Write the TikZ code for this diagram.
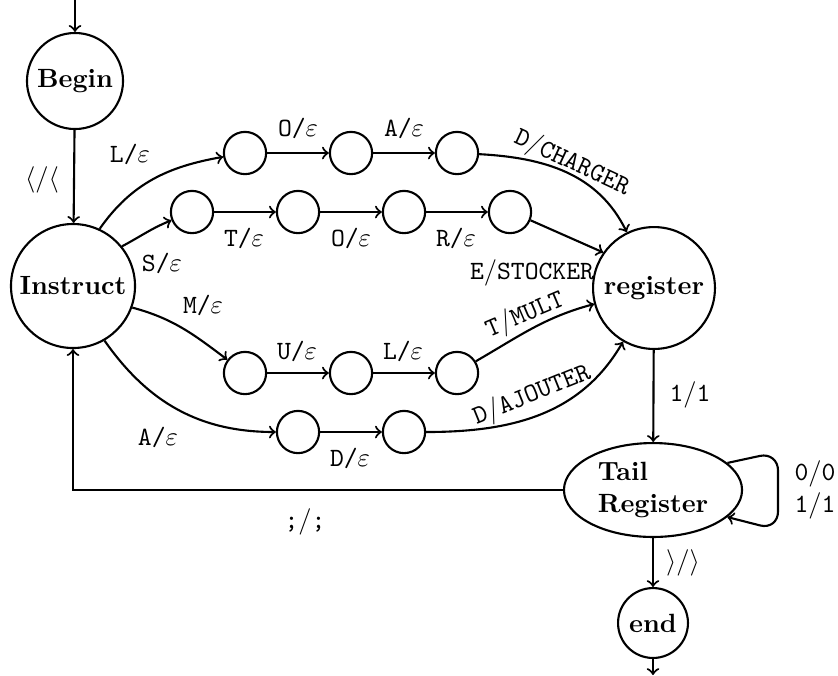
\documentclass[tikz,border=0pt]{standalone}
\usetikzlibrary{shapes.geometric}
\begin{document}
\begin{tikzpicture}[x=0.379pt,y=-0.379pt,
  every path/.style={thick},
  >=to,
  bigstate/.style={draw,circle,inner sep=0pt,font=\bfseries},
  smallstate/.style={draw,circle,inner sep=0pt,minimum size=16pt},
  lab/.style={inner sep=0pt,font=\ttfamily},
  conn/.style={->}]
\useasboundingbox (0,0) rectangle (838,675);
% states
\node[bigstate,minimum size=36.4pt] (begin) at (75,81) {Begin};
\node[bigstate,minimum size=47pt] (instr) at (73,286) {Instruct};
\node[bigstate,minimum size=46.2pt] (reg) at (654,288) {register};
\node[draw,ellipse,inner sep=0pt,minimum width=67.5pt,minimum height=35.6pt,font=\bfseries,align=left] (tr) at (653,490) {Tail\\Register};
\node[bigstate,minimum size=26.5pt] (fin) at (653,623) {end};
\node[smallstate] (l1) at (245,153) {};
\node[smallstate] (l2) at (351,153) {};
\node[smallstate] (l3) at (457,153) {};
\node[smallstate] (s1) at (192,212) {};
\node[smallstate] (s2) at (298,212) {};
\node[smallstate] (s3) at (404,212) {};
\node[smallstate] (s4) at (510,212) {};
\node[smallstate] (m1) at (245,373) {};
\node[smallstate] (m2) at (351,373) {};
\node[smallstate] (m3) at (457,373) {};
\node[smallstate] (a1) at (298,432) {};
\node[smallstate] (a2) at (404,432) {};
\coordinate (entry) at (75,0);
\coordinate (exit) at (653,675);
\coordinate (lpA) at (778,452);
\coordinate (lpB) at (778,530);
% connectors
\draw[conn] (entry) -- (begin);
\draw[conn] (begin) -- (instr);
\draw[conn] (instr.65) to[out=55,in=190] (l1);
\draw[conn] (instr.39) to[out=28,in=202] (s1);
\draw[conn] (instr.-20) to[out=-15,in=143] (m1);
\draw[conn] (instr.-60) to[out=-55,in=180] (a1);
\draw[conn] (l1) -- (l2);
\draw[conn] (l2) -- (l3);
\draw[conn] (s1) -- (s2);
\draw[conn] (s2) -- (s3);
\draw[conn] (s3) -- (s4);
\draw[conn] (m1) -- (m2);
\draw[conn] (m2) -- (m3);
\draw[conn] (a1) -- (a2);
\draw[conn] (l3) to[out=-3,in=116] (reg);
\draw[conn] (s4.-22) -- (reg.145);
\draw[conn] (m3.32) to[out=30,in=195] (reg);
\draw[conn] (a2) to[out=0,in=240] (reg);
\draw[conn] (reg) -- (tr);
\draw[conn] (tr) -- (fin);
\draw[conn] (fin) -- (exit);
\draw[conn,rounded corners=7pt] (tr.20) -- (lpA) -- (lpB) -- (tr.-20);
\draw[conn] (tr.west) -| (instr.south);
% labels
\node[lab] (t1) at (42,180) {$\langle/\langle$};
\node[lab] (t2) at (130,154) {L/$\varepsilon$};
\node[lab] (t3) at (162,263) {S/$\varepsilon$};
\node[lab] (t4) at (203,305) {M/$\varepsilon$};
\node[lab] (t5) at (158,437) {A/$\varepsilon$};
\node[lab] (t6) at (298,128) {O/$\varepsilon$};
\node[lab] (t7) at (404,128) {A/$\varepsilon$};
\node[lab] (t8) at (244,238) {T/$\varepsilon$};
\node[lab] (t9) at (351,238) {O/$\varepsilon$};
\node[lab] (t10) at (456,238) {R/$\varepsilon$};
\node[lab] (t11) at (297,351) {U/$\varepsilon$};
\node[lab] (t12) at (403,351) {L/$\varepsilon$};
\node[lab] (t13) at (350,458) {D/$\varepsilon$};
\node[lab,rotate=-25] (t14) at (572,163) {D$/$CHARGER};
\node[lab] (t15) at (532,273) {E$/$STOCKER};
\node[lab,rotate=23] (t16) at (525,315) {T$/$MULT};
\node[lab,rotate=22] (t17) at (532,395) {D$/$AJOUTER};
\node[lab] (t18) at (690,395) {1$/$1};
\node[lab] (t19) at (683,563) {$\rangle/\rangle$};
\node[lab,align=left] (t20) at (815,490) {0$/$0\\1$/$1};
\node[lab] (t21) at (305,522) {;$/$;};
\end{tikzpicture}
\end{document}
